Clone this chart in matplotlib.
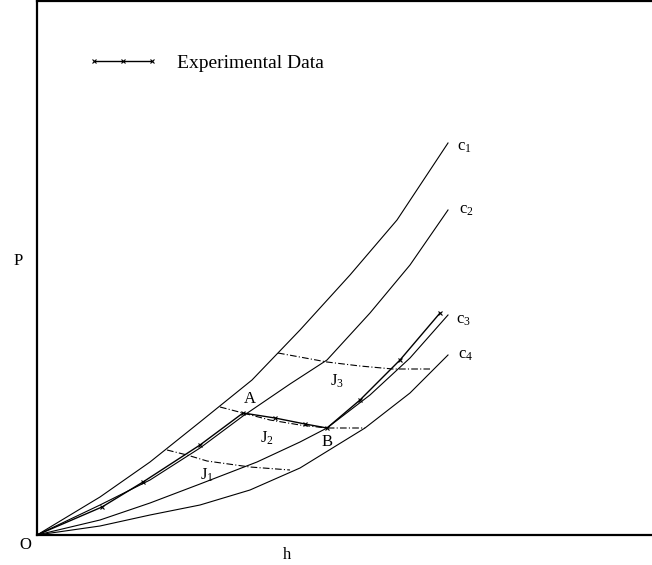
import numpy as np
import matplotlib
matplotlib.use("Agg")
import matplotlib.pyplot as plt

plt.rcParams['font.family'] = ['Liberation Serif', 'DejaVu Serif']
plt.rcParams['mathtext.fontset'] = 'custom'
plt.rcParams['mathtext.rm'] = 'Liberation Serif'
plt.rcParams['mathtext.it'] = 'Liberation Serif'

# curves (h, P), origin at O
c1_h = [0, 63, 113, 163, 215, 263, 313, 360, 411]
c1_P = [0, 38, 73, 113, 155, 205, 260, 315, 392]
c2_h = [0, 63, 113, 163, 206, 253, 290, 333, 373, 411]
c2_P = [0, 30, 55, 87, 119, 151, 175, 222, 270, 325]
c3_h = [0, 63, 113, 163, 220, 263, 290, 333, 373, 411]
c3_P = [0, 15, 32, 51, 73, 93, 107, 140, 177, 220]
c4_h = [0, 63, 113, 163, 213, 263, 328, 373, 411]
c4_P = [0, 9, 20, 30, 45, 67, 107, 142, 180]

exp_h = [0, 65, 106, 163, 206, 238, 268, 290, 323, 363, 403]
exp_P = [0, 28, 53, 90, 122, 117, 111, 107, 135, 175, 222]

J1_h = [130, 150, 170, 213, 253]
J1_P = [85, 80, 74, 68, 65]
J2_h = [183, 206, 233, 263, 290, 328]
J2_P = [128, 122, 115, 110, 107, 107]
J3_h = [241, 290, 323, 356, 393]
J3_P = [182, 173, 169, 166, 166]

fig = plt.figure(figsize=(6.52, 5.65), dpi=100)
ax = fig.add_axes([37/652, 30/565, 615/652, 534/565])

for h, P in [(c1_h, c1_P), (c2_h, c2_P), (c3_h, c3_P), (c4_h, c4_P)]:
    ax.plot(h, P, color='black', lw=0.8)

ax.plot(exp_h, exp_P, color='black', lw=1.0, marker='x', ms=3, mew=0.8,
        label='Experimental Data')

for h, P in [(J1_h, J1_P), (J2_h, J2_P), (J3_h, J3_P)]:
    ax.plot(h, P, color='black', lw=0.8, dashes=(6, 2, 1, 2))

ax.set_xlim(0, 615)
ax.set_ylim(0, 534)
ax.set_xticks([])
ax.set_yticks([])
ax.spines['right'].set_visible(False)
for s in ['left', 'top', 'bottom']:
    ax.spines[s].set_linewidth(1.6)

fs = 12
ax.text(-19, 274, 'P', fontsize=fs, ha='center', va='center', clip_on=False)
ax.text(250, -20, 'h', fontsize=fs, ha='center', va='center', clip_on=False)
ax.text(-12, -10, 'O', fontsize=fs, ha='center', va='center', clip_on=False)
ax.text(213, 136, 'A', fontsize=fs, ha='center', va='center')
ax.text(290, 93, 'B', fontsize=fs, ha='center', va='center')
ax.text(170, 60, r'$J_1$', fontsize=fs, ha='center', va='center')
ax.text(230, 97, r'$J_2$', fontsize=fs, ha='center', va='center')
ax.text(300, 154, r'$J_3$', fontsize=fs, ha='center', va='center')
ax.text(420, 388, r'$c_1$', fontsize=fs, ha='left', va='center')
ax.text(422, 325, r'$c_2$', fontsize=fs, ha='left', va='center')
ax.text(419, 215, r'$c_3$', fontsize=fs, ha='left', va='center')
ax.text(421, 180, r'$c_4$', fontsize=fs, ha='left', va='center')

ax.legend(loc='center left', bbox_to_anchor=(51/615, 472/534), frameon=False,
          fontsize=14, handlelength=3.6, handletextpad=1.0, borderpad=0,
          borderaxespad=0, numpoints=3)

fig.savefig('out.png', dpi=100)
